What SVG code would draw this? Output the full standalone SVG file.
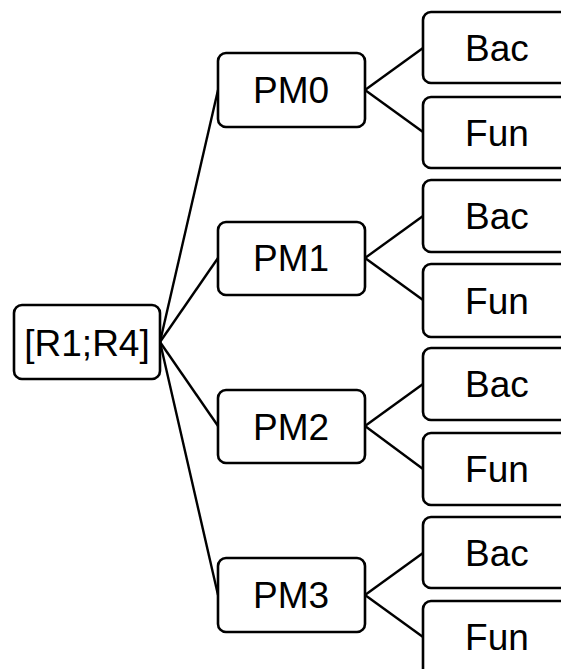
<svg xmlns="http://www.w3.org/2000/svg" width="561" height="669" viewBox="0 0 561 669">
<style>
.box{fill:#fff;stroke:#000;stroke-width:2.6}
.t{font-family:"Liberation Sans",Arial,sans-serif;font-size:37px;fill:#000;text-anchor:middle}
.c{stroke:#000;stroke-width:2.4;fill:none}
</style>
<rect width="561" height="669" fill="#fff"/>
<g id="connectors">
<line class="c" x1="160" y1="342" x2="218" y2="90"/>
<line class="c" x1="160" y1="342" x2="218" y2="258"/>
<line class="c" x1="160" y1="342" x2="218" y2="426"/>
<line class="c" x1="160" y1="342" x2="218" y2="595"/>
<line class="c" x1="365" y1="90" x2="423" y2="48"/>
<line class="c" x1="365" y1="90" x2="423" y2="132"/>
<line class="c" x1="365" y1="258" x2="423" y2="216"/>
<line class="c" x1="365" y1="258" x2="423" y2="300"/>
<line class="c" x1="365" y1="426" x2="423" y2="384"/>
<line class="c" x1="365" y1="426" x2="423" y2="469"/>
<line class="c" x1="365" y1="595" x2="423" y2="553"/>
<line class="c" x1="365" y1="595" x2="423" y2="637"/>
</g>
<g id="root"><rect class="box" x="14" y="305" width="146" height="74" rx="8"/><text class="t" x="87" y="356">[R1;R4]</text></g>
<g id="pm0"><rect class="box" x="218" y="53" width="147" height="74" rx="8"/><text class="t" x="291" y="103">PM0</text></g>
<g id="pm1"><rect class="box" x="218" y="222" width="147" height="73" rx="8"/><text class="t" x="291" y="271">PM1</text></g>
<g id="pm2"><rect class="box" x="218" y="390" width="147" height="73" rx="8"/><text class="t" x="291" y="440">PM2</text></g>
<g id="pm3"><rect class="box" x="218" y="558" width="147" height="74" rx="8"/><text class="t" x="291" y="608">PM3</text></g>
<g id="bac0"><rect class="box" x="423" y="12" width="160" height="71" rx="8"/><text class="t" x="497" y="61">Bac</text></g>
<g id="fun0"><rect class="box" x="423" y="97" width="160" height="71" rx="8"/><text class="t" x="497" y="146">Fun</text></g>
<g id="bac1"><rect class="box" x="423" y="180" width="160" height="72" rx="8"/><text class="t" x="497" y="229">Bac</text></g>
<g id="fun1"><rect class="box" x="423" y="264" width="160" height="73" rx="8"/><text class="t" x="497" y="314">Fun</text></g>
<g id="bac2"><rect class="box" x="423" y="348" width="160" height="72" rx="8"/><text class="t" x="497" y="397">Bac</text></g>
<g id="fun2"><rect class="box" x="423" y="433" width="160" height="72" rx="8"/><text class="t" x="497" y="482">Fun</text></g>
<g id="bac3"><rect class="box" x="423" y="517" width="160" height="71" rx="8"/><text class="t" x="497" y="566">Bac</text></g>
<g id="fun3"><rect class="box" x="423" y="601" width="160" height="90" rx="8"/><text class="t" x="497" y="650">Fun</text></g>
</svg>
